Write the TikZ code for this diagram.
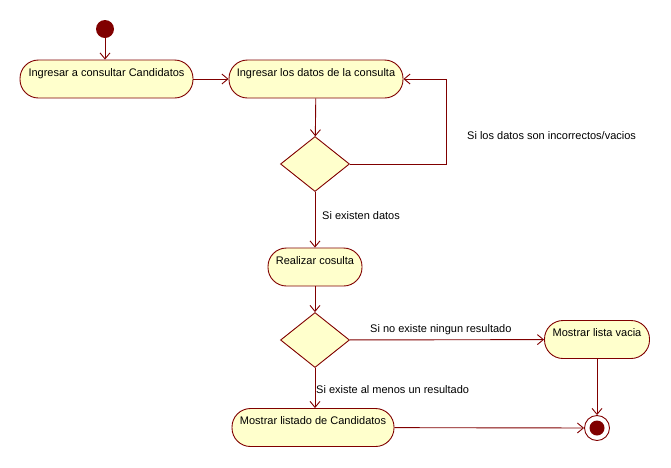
\documentclass[tikz,border=0pt]{standalone}
\usepackage{fontspec}
\setmainfont{Liberation Sans}
\usetikzlibrary{shapes.geometric,arrows.meta}
\definecolor{umlred}{HTML}{800000}
\definecolor{umlfill}{HTML}{FFFFCC}
\tikzset{
  actividad/.style={draw=umlred, fill=umlfill, rounded corners=18.5pt, line width=0.9pt,
    text height=12pt, text depth=18pt, inner ysep=4pt, font=\fontsize{11}{13}\selectfont},
  decision/.style={diamond, draw=umlred, fill=umlfill, line width=0.9pt,
    minimum width=69pt, minimum height=55pt, inner sep=0pt},
  flujo/.style={draw=umlred, line width=0.9pt, -{Straight Barb[length=6pt,width=10pt]}},
  guarda/.style={anchor=west, inner sep=0pt, font=\fontsize{11}{13}\selectfont}
}
\begin{document}
\begin{tikzpicture}[x=1pt,y=-1pt]
	\useasboundingbox (0,0) rectangle (671,467);
	% nodos
	\node[circle, fill=umlred, minimum size=18pt, inner sep=0pt] (inicio) at (105,29) {};
	\node[actividad, minimum width=173pt] (ingresar) at (106.5,79) {Ingresar a consultar Candidatos};
	\node[actividad, minimum width=174pt] (datos) at (316,79) {Ingresar los datos de la consulta};
	\node[decision] (valida) at (315,164) {};
	\node[actividad, minimum width=94pt] (realizar) at (315,267) {Realizar cosulta};
	\node[decision] (resultado) at (315,340) {};
	\node[actividad, minimum width=105pt] (vacia) at (597,339.5) {Mostrar lista vacia};
	\node[actividad, minimum width=162pt] (listado) at (313,427.5) {Mostrar listado de Candidatos};
	\node[circle, draw=umlred, fill=white, line width=0.9pt, minimum size=25pt, inner sep=0pt] (fin) at (597,428) {};
	\fill[umlred] (fin.center) circle (7.5pt);
	\coordinate (vuelta) at (446,164);
	% flujos
	\draw[flujo] (inicio) -- (inicio |- ingresar.north);
	\draw[flujo] (ingresar) -- (datos);
	\draw[flujo] (datos) -- (valida);
	\draw[flujo] (valida.east) -- (vuelta) |- (datos.east);
	\draw[flujo] (valida) -- (realizar);
	\draw[flujo] (realizar) -- (resultado);
	\draw[flujo] (resultado) -- (vacia);
	\draw[flujo] (resultado.south) -- (resultado.south |- listado.north);
	\draw[flujo] (vacia) -- (vacia |- fin.north);
	\draw[flujo] (listado) -- (fin);
	% guardas
	\node[guarda] (g1) at (467,136) {Si los datos son incorrectos/vacios};
	\node[guarda] (g2) at (322,216) {Si existen datos};
	\node[guarda] (g3) at (370,330) {Si no existe ningun resultado};
	\node[guarda] (g4) at (316,390) {Si existe al menos un resultado};
\end{tikzpicture}
\end{document}
